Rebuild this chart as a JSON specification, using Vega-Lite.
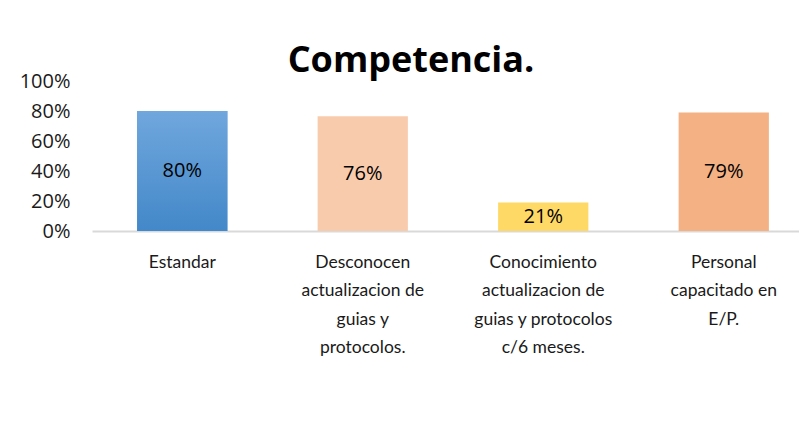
{
  "$schema": "https://vega.github.io/schema/vega-lite/v6.json",
  "width": 722,
  "height": 150,
  "autosize": {"type": "none"},
  "padding": {"left": 92, "top": 81, "right": 0, "bottom": 190},
  "background": "white",
  "config": {"view": {"stroke": null}},
  "title": {"text": "Competencia.", "font": "Open Sans", "fontSize": 36, "fontWeight": "bold", "color": "#000000", "anchor": "middle", "dx": -42, "offset": -9},
  "data": {"values": [
    {"cat": "Estandar", "value": 0.80, "label": "80%"},
    {"cat": "Desconocen|actualizacion de|guias y|protocolos.", "value": 0.765, "label": "76%"},
    {"cat": "Conocimiento|actualizacion de|guias y protocolos|c/6 meses.", "value": 0.19, "label": "21%"},
    {"cat": "Personal|capacitado en|E/P.", "value": 0.79, "label": "79%"}
  ]},
  "encoding": {
    "x": {"field": "cat", "type": "nominal", "sort": null,
      "scale": {"domain": ["Estandar", "Desconocen|actualizacion de|guias y|protocolos.", "Conocimiento|actualizacion de|guias y protocolos|c/6 meses.", "Personal|capacitado en|E/P."], "paddingInner": 0.5, "paddingOuter": 0.25},
      "axis": {"title": null, "labelExpr": "split(datum.label, '|')", "labelAngle": 0, "labelFont": "Lato", "labelFontSize": 17.5, "labelLineHeight": 28.5, "labelBaseline": "top", "labelPadding": 22, "labelColor": "#1a1a1a", "labelLimit": 0, "ticks": false, "domainColor": "#d9d9d9", "domainWidth": 2, "grid": false}}
  },
  "layer": [
    {
      "mark": {"type": "bar"},
      "encoding": {
        "y": {"field": "value", "type": "quantitative", "scale": {"domain": [0, 1]},
          "axis": {"title": null, "values": [0, 0.2, 0.4, 0.6, 0.8, 1], "format": ".0%", "ticks": false, "domain": false, "grid": false, "labelFont": "Open Sans", "labelFontSize": 20, "labelColor": "#1a1a1a", "labelPadding": 22}},
        "color": {"field": "cat", "type": "nominal", "legend": null,
          "scale": {"domain": ["Estandar", "Desconocen|actualizacion de|guias y|protocolos.", "Conocimiento|actualizacion de|guias y protocolos|c/6 meses.", "Personal|capacitado en|E/P."], "range": ["#5b9bd5", "#f8cbad", "#fed966", "#f4b183"]}}
      }
    },
    {
      "transform": [{"filter": "datum.cat == 'Estandar'"}],
      "mark": {"type": "bar", "color": {"gradient": "linear", "x1": 0, "y1": 0, "x2": 0, "y2": 1, "stops": [{"offset": 0, "color": "#70a7dd"}, {"offset": 1, "color": "#4388c9"}]}},
      "encoding": {
        "y": {"field": "value", "type": "quantitative", "scale": {"domain": [0, 1]}, "axis": null}
      }
    },
    {
      "mark": {"type": "text", "font": "Open Sans", "fontSize": 20, "color": "#000000", "baseline": "middle"},
      "encoding": {
        "y": {"field": "value", "type": "quantitative", "scale": {"domain": [0, 2]}, "axis": null},
        "text": {"field": "label"}
      }
    }
  ],
  "resolve": {"scale": {"y": "independent", "color": "independent"}}
}
